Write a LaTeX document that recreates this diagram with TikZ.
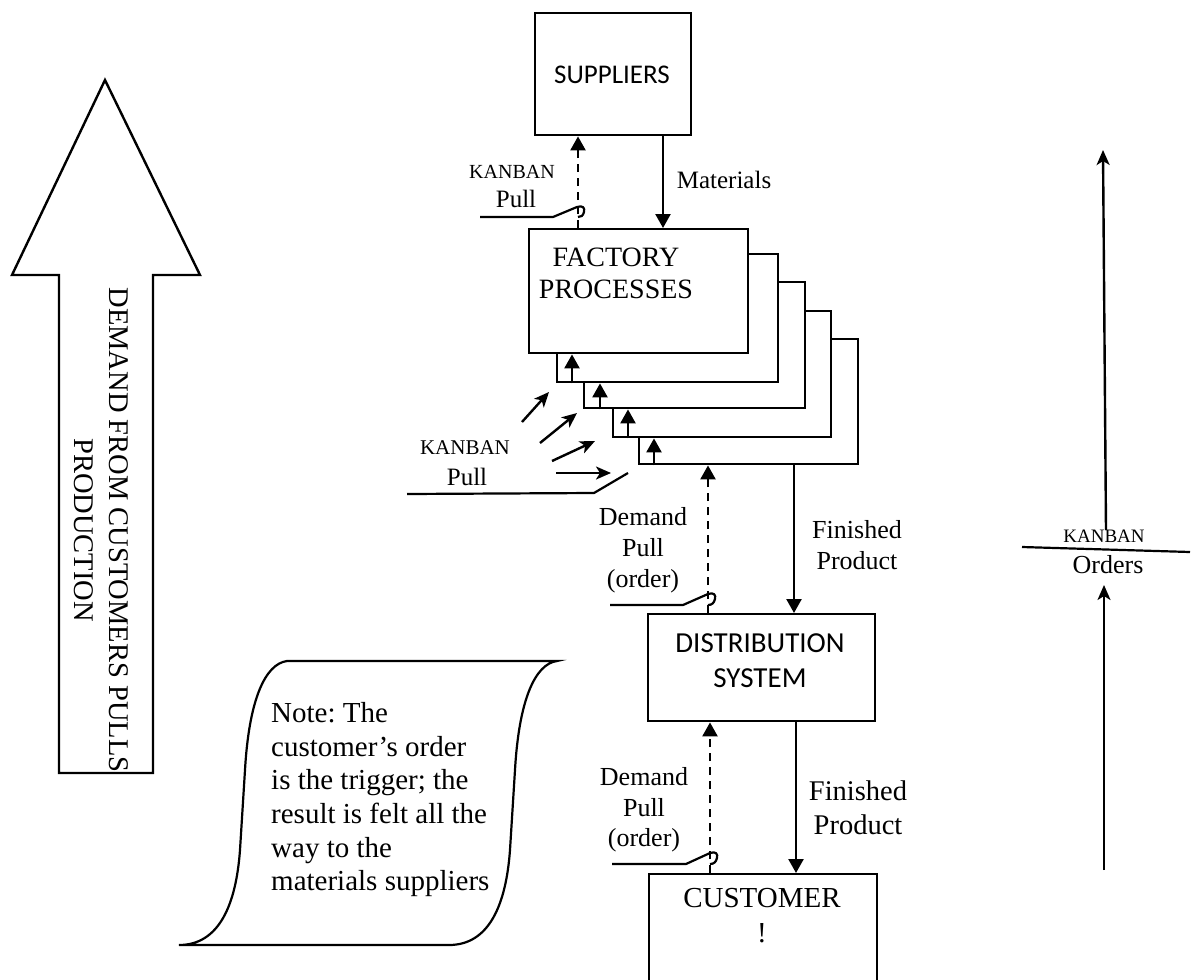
\documentclass[tikz,border=0pt]{standalone}
\usepackage{fontspec}
\setmainfont{Liberation Serif}
\newfontfamily\calfont{Carlito}
\usetikzlibrary{arrows.meta,calc}
\newcommand\fsz[2]{\fontsize{#1}{#2}\selectfont}
\frenchspacing
\begin{document}
\begin{tikzpicture}[x=1pt,y=-1pt,line width=2.4pt,
  blk/.style={draw,fill=white,line width=2.4pt,anchor=north west,inner sep=0pt},
  tri/.style={-{Triangle[length=14pt,width=15pt]}},
  dtri/.style={tri,dash pattern=on 8pt off 6pt},
  barb/.style={-{Stealth[length=15pt,width=13pt,inset=4pt]}},
  txt/.style={inner sep=0pt,align=center},
  ledger/.style={line width=2.2pt,line join=round}]
\useasboundingbox (0,0) rectangle (1192,980);
\clip (0,0) rectangle (1192,980);

% big demand arrow
\draw[line width=2.4pt,line join=miter] (59,773) -- (59,275) -- (12,275) -- (105,80)
  -- (200,275) -- (153,275) -- (153,773) -- cycle;
\node[txt,rotate=-90,font=\fsz{28.5}{35}] (demtxt) at (101,530)
  {DEMAND FROM CUSTOMERS PULLS\\PRODUCTION};

% suppliers
\node[blk,minimum width=156pt,minimum height=122pt] (sup) at (534,12) {};
\node[txt,font=\calfont\fsz{27}{32}] (suptxt) at (612,75) {SUPPLIERS};

% stacked factory processes, back to front
\node[blk,minimum width=219pt,minimum height=125pt] (st4) at (638,338) {};
\node[blk,minimum width=218pt,minimum height=126pt] (st3) at (612,310) {};
\node[blk,minimum width=221pt,minimum height=126pt] (st2) at (583,281) {};
\node[blk,minimum width=221pt,minimum height=128pt] (st1) at (556,253) {};
\node[blk,minimum width=219pt,minimum height=124pt] (fac) at (528,228) {};
\node[txt,font=\fsz{28}{32}] (factxt) at (616,273) {FACTORY\\PROCESSES};

% distribution and customer
\node[blk,minimum width=227pt,minimum height=107pt] (dist) at (647,613) {};
\node[txt,font=\calfont\fsz{29}{35}] (disttxt) at (760,661) {DISTRIBUTION\\SYSTEM};
\node[blk,minimum width=228pt,minimum height=130pt] (cust) at (648,873) {};
\node[txt,font=\fsz{29}{35}] (custtxt) at (762,916) {CUSTOMER\\!};

% column positions of the vertical connectors
\coordinate (kx) at (578,0);
\coordinate (mx) at (663,0);
\coordinate (dxa) at (708,0);
\coordinate (dxb) at (710,0);
\coordinate (fx) at (794,0);
\coordinate (fy) at (796,0);

% suppliers <-> factory
\draw[dtri] (kx |- fac.north) -- (kx |- sup.south);
\draw[tri] (mx |- sup.south) -- (mx |- fac.north);
\node[txt,font=\fsz{20}{22}] (kb1) at (512,172) {KANBAN};
\node[txt,font=\fsz{25}{28}] (kb1p) at (516,199) {Pull};
\node[txt,font=\fsz{25}{28}] (mat) at (724,180) {Materials};
\draw[ledger] (480,217) -- (553,217) -- (577,207) .. controls (583,205) and (585,208) .. (584,212)
  .. controls (583,216) and (581,217) .. (578,217);

% pulls between the stacked stages
\draw[tri] ($(st1.south west)+(16,0)$) coordinate (p1) -- (p1 |- fac.south);
\draw[tri] ($(st2.south west)+(17,0)$) coordinate (p2) -- (p2 |- st1.south);
\draw[tri] ($(st3.south west)+(16,0)$) coordinate (p3) -- (p3 |- st2.south);
\draw[tri] ($(st4.south west)+(16,0)$) coordinate (p4) -- (p4 |- st3.south);

% incoming kanban pulls
\coordinate (ka1) at (522,422); \coordinate (kb1e) at (549,392);
\coordinate (ka2) at (540,443); \coordinate (kb2e) at (577,413);
\coordinate (ka3) at (552,461); \coordinate (kb3e) at (595,441);
\coordinate (ka4) at (556,473); \coordinate (kb4e) at (611,473);
\draw[barb] (ka1) -- (kb1e);
\draw[barb] (ka2) -- (kb2e);
\draw[barb] (ka3) -- (kb3e);
\draw[barb] (ka4) -- (kb4e);
\node[txt,font=\fsz{21}{22}] (kb2) at (465,448) {KANBAN};
\node[txt,font=\fsz{25}{28}] (kb2p) at (467,477) {Pull};
\draw[ledger] (407,494) -- (594,493) -- (628,473);

% factory <-> distribution
\draw[dtri] (dxa |- dist.north) -- (dxa |- st4.south);
\draw[tri] (fx |- st4.south) -- (fx |- dist.north);
\node[txt,font=\fsz{26}{31}] (dem1) at (643,550) {Demand\\Pull\\(order)};
\node[txt,font=\fsz{26}{30.5}] (fin1) at (857,545) {Finished\\Product};
\draw[ledger] (610,605) -- (683,605) -- (708,594) .. controls (714,592) and (716,595) .. (715,599)
  .. controls (714,603) and (712,605) .. (708,605);

% distribution <-> customer
\draw[dtri] (dxb |- cust.north) -- (dxb |- dist.south);
\draw[tri] (fy |- dist.south) -- (fy |- cust.north);
\node[txt,font=\fsz{26}{30.5}] (dem2) at (644,810) {Demand\\Pull\\(order)};
\node[txt,font=\fsz{28.5}{34}] (fin2) at (858,808) {Finished\\Product};
\draw[ledger] (612,864) -- (686,864) -- (710,853) .. controls (716,851) and (718,854) .. (717,858)
  .. controls (716,862) and (714,864) .. (710,864);

% note scroll
\draw[line width=2.2pt] (287,661) -- (557,661) .. controls (535,664) and (519,700) .. (515,770)
  -- (510,850) .. controls (506,905) and (489,945) .. (449,945) -- (179,945)
  .. controls (219,945) and (236,905) .. (240,850) -- (245,770)
  .. controls (249,700) and (265,664) .. (287,661) -- cycle;
\node[inner sep=0pt,align=left,anchor=north west,font=\fsz{29}{33.7}] (note) at (270,701)
  {Note: The\\customer’s order\\is the trigger; the\\result is felt all the\\way to the\\materials suppliers};

% kanban orders on the right
\coordinate (oa) at (1104,870); \coordinate (ob) at (1104,585);
\coordinate (oc) at (1106,530); \coordinate (od) at (1103,150);
\draw[barb] (oa) -- (ob);
\draw[barb] (oc) -- (od);
\draw[ledger] (1022,547) -- (1190,552);
\node[txt,font=\fsz{19}{22}] (kb3) at (1104,536) {KANBAN};
\node[txt,font=\fsz{26}{28}] (ord) at (1108,565) {Orders};
\end{tikzpicture}
\end{document}
